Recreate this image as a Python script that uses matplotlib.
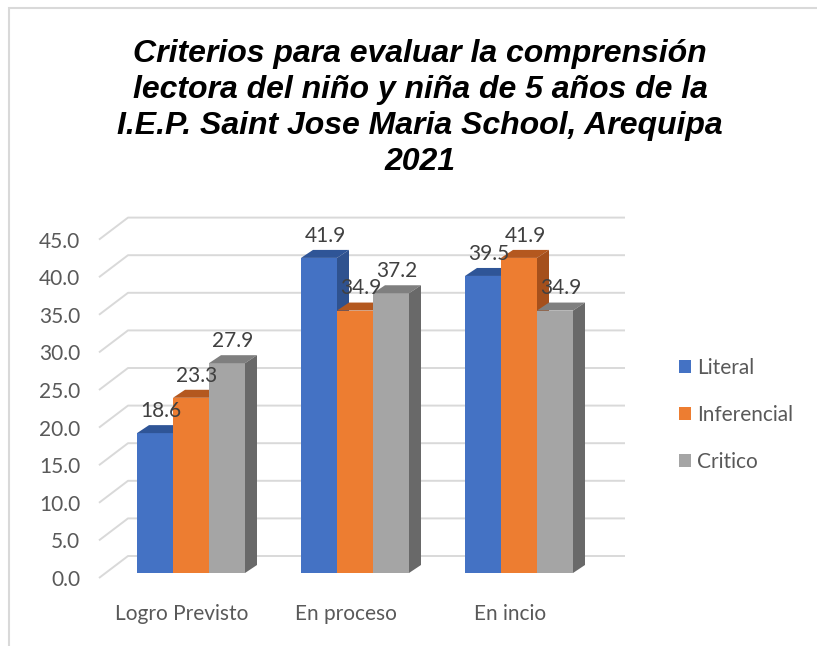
import matplotlib.pyplot as plt
from matplotlib.patches import Polygon, Rectangle

categories = ['Logro Previsto', 'En proceso', 'En incio']
series = ['Literal', 'Inferencial', 'Critico']
literal = [18.6, 41.9, 39.5]
inferencial = [23.3, 34.9, 41.9]
critico = [27.9, 37.2, 34.9]
values = [literal, inferencial, critico]

front_colors = ['#4472C4', '#ED7D31', '#A5A5A5']
top_colors = ['#2F5597', '#B4581F', '#7F7F7F']
side_colors = ['#2F528F', '#A5501C', '#696969']

yticks = [0, 5, 10, 15, 20, 25, 30, 35, 40, 45]

# pixel geometry of the reference (817x646)
W, H = 817, 646
px_per_cat = 164.0
px_per_unit = 7.52
x0_px = 191.0      # centre of first group
y0_px = 578.0      # front plane value 0

def cx(px):
    return (px - x0_px) / px_per_cat

def cy(py):
    return (y0_px - py) / px_per_unit

fig = plt.figure(figsize=(W / 100, H / 100), dpi=100)
ax_l, ax_r, ax_t, ax_b = 90, 640, 200, 590
ax = fig.add_axes([ax_l / W, (H - ax_b) / H, (ax_r - ax_l) / W, (ax_b - ax_t) / H])
ax.set_xlim(cx(ax_l), cx(ax_r))
ax.set_ylim(cy(ax_b), cy(ax_t))
for s in ax.spines.values():
    s.set_visible(False)

# back wall gridlines with perspective corner
wall_dy = 22 / px_per_unit
for v in yticks:
    ax.plot([cx(99), cx(128), cx(625)], [v, v + wall_dy, v + wall_dy],
            color='#D9D9D9', lw=1.4, zorder=1, solid_capstyle='butt')

# bars with a simple 3d look
bar_w = 36 / px_per_cat
bar_base = 5 / px_per_unit
ddx = 12 / px_per_cat
ddy = 8 / px_per_unit
fs = 15
z = 2
for i in range(len(categories)):
    for j, vals in enumerate(values):
        v = vals[i]
        x = i + (j - 1.5) * bar_w
        y1 = bar_base + v
        ax.add_patch(Rectangle((x, bar_base), bar_w, v, facecolor=front_colors[j],
                               edgecolor='none', zorder=z))
        ax.add_patch(Polygon([(x, y1), (x + ddx, y1 + ddy), (x + bar_w + ddx, y1 + ddy),
                              (x + bar_w, y1)], closed=True, facecolor=top_colors[j],
                             edgecolor='none', zorder=z))
        ax.add_patch(Polygon([(x + bar_w, bar_base), (x + bar_w + ddx, bar_base + ddy),
                              (x + bar_w + ddx, y1 + ddy), (x + bar_w, y1)], closed=True,
                             facecolor=side_colors[j], edgecolor='none', zorder=z))
        ax.annotate(f'{v:.1f}', (x + bar_w / 2 + ddx / 2, y1 + ddy), xytext=(0, 3),
                    textcoords='offset points', ha='center', va='bottom',
                    fontsize=fs, family='Lato', color='#404040', zorder=20)
        z += 1

ax.set_yticks(yticks)
ax.set_yticklabels([f'{v:.1f}' for v in yticks], family='Lato', fontsize=fs, color='#595959')
ax.set_xticks([i - 9 / px_per_cat for i in range(len(categories))])
ax.set_xticklabels(categories, family='Lato', fontsize=fs, color='#595959')
ax.tick_params(axis='y', length=0, pad=7)
ax.tick_params(axis='x', length=0, pad=10)

fig.text(420 / W, 1 - 108 / H,
         'Criterios para evaluar la comprensión\nlectora del niño y niña de 5 años de la\n'
         'I.E.P. Saint Jose Maria School, Arequipa\n2021',
         ha='center', va='center', fontsize=23, fontweight='bold', fontstyle='italic',
         family='Liberation Sans', linespacing=1.25)

handles = [Rectangle((0, 0), 1, 1, facecolor=c, edgecolor='none') for c in front_colors]
fig.legend(handles, series, loc='center left', bbox_to_anchor=(660 / W, 1 - 415 / H),
           frameon=False, handlelength=0.6, handleheight=0.6, handletextpad=0.3,
           labelspacing=1.3, prop={'family': 'Lato', 'size': fs}, labelcolor='#595959')

# chart border
fig.add_artist(Rectangle((9 / W, -0.01), 1.0, 1 - 8 / H + 0.01, transform=fig.transFigure,
                         fill=False, edgecolor='#D9D9D9', lw=1.5))

fig.savefig('out.png', dpi=100)
